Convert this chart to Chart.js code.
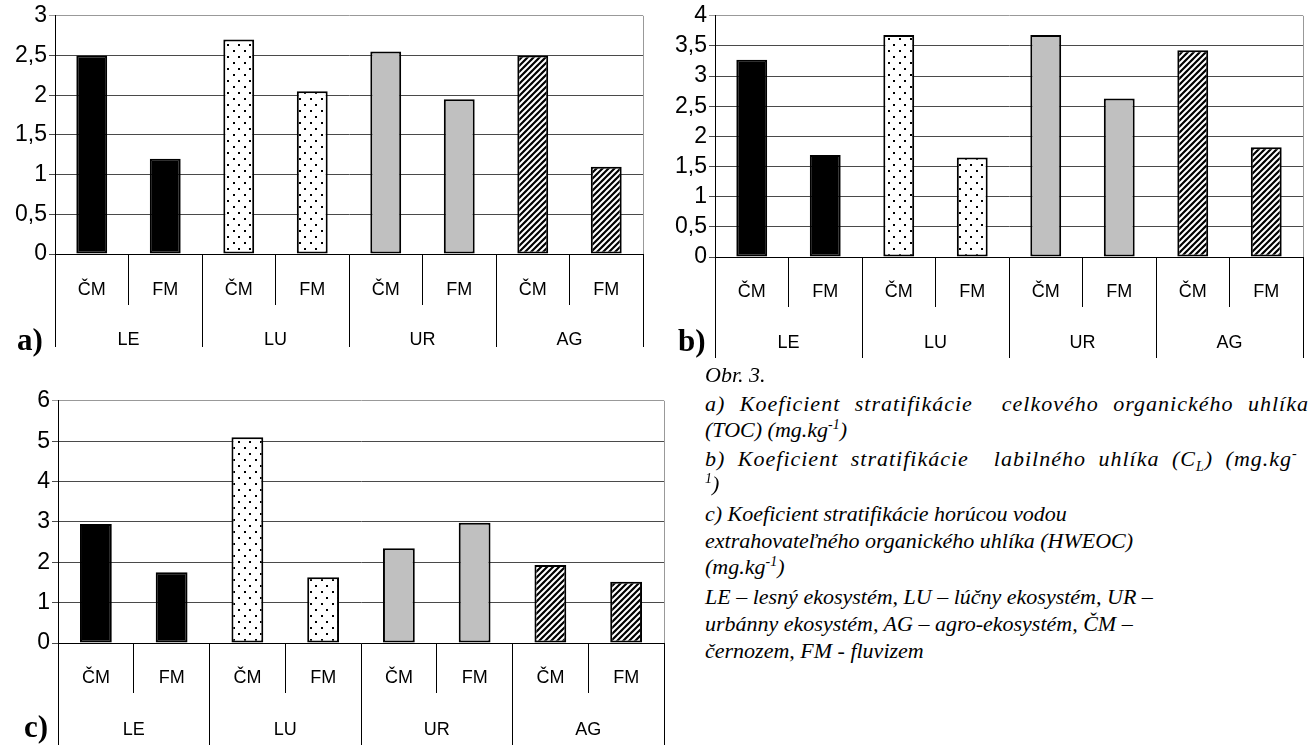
<!DOCTYPE html>
<html>
<head>
<meta charset="utf-8">
<script src="https://cdn.jsdelivr.net/npm/chart.js@4.4.1/dist/chart.umd.min.js"></script>
<style>
  html, body { margin: 0; padding: 0; background: #fff; }
  body { width: 1313px; height: 747px; position: relative; overflow: hidden; }
  canvas { position: absolute; }
  .tag { position: absolute; font-family: "Liberation Serif", "Times New Roman", serif;
         font-weight: bold; font-size: 31px; line-height: 30px; color: #000; }
  .cap { position: absolute; left: 705px; white-space: nowrap; height: 28px; line-height: 28px;
         font-family: "Liberation Serif", "Times New Roman", serif; font-style: italic;
         font-size: 22px; color: #000; }
  .cap sup, .cap sub { font-size: 14px; line-height: 0; }
  .just-a { letter-spacing: 1px; word-spacing: 8px; }
  .just-b { letter-spacing: 1px; word-spacing: 6px; }
</style>
</head>
<body>
<canvas id="chartA" width="660" height="350" style="left:0;top:0"></canvas>
<canvas id="chartB" width="658" height="362" style="left:655px;top:0"></canvas>
<canvas id="chartC" width="680" height="362" style="left:0;top:385px"></canvas>

<div class="tag" style="left:17px;top:325px">a)</div>
<div class="tag" style="left:678px;top:326px">b)</div>
<div class="tag" style="left:24px;top:712px">c)</div>

<div class="cap" style="top:361px">Obr. 3.</div>
<div class="cap just-a" style="top:390px">a) Koeficient stratifikácie&nbsp; celkového organického uhlíka</div>
<div class="cap" style="top:416px">(TOC) (mg.kg<sup>-1</sup>)</div>
<div class="cap just-b" style="top:445px">b) Koeficient stratifikácie&nbsp; labilného uhlíka (C<sub>L</sub>) (mg.kg<sup>-</sup></div>
<div class="cap" style="top:470px"><sup>1</sup>)</div>
<div class="cap" style="top:500px">c) Koeficient stratifikácie horúcou vodou</div>
<div class="cap" style="top:527px">extrahovateľného organického uhlíka (HWEOC)</div>
<div class="cap" style="top:553px">(mg.kg<sup>-1</sup>)</div>
<div class="cap" style="top:583px">LE – lesný ekosystém, LU – lúčny ekosystém, UR –</div>
<div class="cap" style="top:610px">urbánny ekosystém, AG – agro-ekosystém, ČM –</div>
<div class="cap" style="top:637px">černozem, FM - fluvizem</div>

<script>
// Soil types within each ecosystem, and the ecosystems themselves
const soilLabels = ['ČM', 'FM', 'ČM', 'FM', 'ČM', 'FM', 'ČM', 'FM'];
const ecoLabels = ['LE', 'LU', 'UR', 'AG'];

// Stratification coefficients: a) TOC, b) labile carbon C_L, c) HWEOC
const valuesTOC = [2.5, 1.2, 2.7, 2.05, 2.55, 1.95, 2.5, 1.1];
const valuesCL = [3.27, 1.69, 3.68, 1.65, 3.68, 2.63, 3.43, 1.82];
const valuesHWEOC = [2.95, 1.75, 5.1, 1.63, 2.35, 2.98, 1.93, 1.52];

// Value axis ranges
const yMaxTOC = 3, yStepTOC = 0.5;
const yMaxCL = 4, yStepCL = 0.5;
const yMaxHWEOC = 6, yStepHWEOC = 1;

// Fill patterns: one per ecosystem
function dotPattern() {
  const c = document.createElement('canvas');
  c.width = 11; c.height = 12;
  const g = c.getContext('2d');
  g.fillStyle = '#fff'; g.fillRect(0, 0, 11, 12);
  g.fillStyle = '#000';
  g.fillRect(2, 2, 2, 2);
  g.fillRect(7, 8, 2, 2);
  return g.createPattern(c, 'repeat');
}
function hatchPattern() {
  const s = 6;
  const c = document.createElement('canvas');
  c.width = s; c.height = s;
  const g = c.getContext('2d');
  g.fillStyle = '#000'; g.fillRect(0, 0, s, s);
  g.strokeStyle = '#fff'; g.lineWidth = 2;
  g.beginPath();
  g.moveTo(-1, s + 1); g.lineTo(s + 1, -1);
  g.moveTo(-1, 1); g.lineTo(1, -1);
  g.moveTo(s - 1, s + 1); g.lineTo(s + 1, s - 1);
  g.stroke();
  return g.createPattern(c, 'repeat');
}
const ecoFills = ['#000000', dotPattern(), '#c0c0c0', hatchPattern()];
const barFills = soilLabels.map((_, i) => ecoFills[Math.floor(i / 2)]);

// Right edge of the plot frame
const frameRight = {
  id: 'frameRight',
  beforeDatasetsDraw(chart) {
    const a = chart.chartArea, g = chart.ctx;
    g.save();
    g.strokeStyle = '#999'; g.lineWidth = 1;
    g.beginPath();
    g.moveTo(Math.round(a.right) + 0.5, a.top);
    g.lineTo(Math.round(a.right) + 0.5, a.bottom);
    g.stroke();
    g.restore();
  }
};

const sans = '"Liberation Sans", Arial, sans-serif';

function makeChart(id, values, yMax, yStep, geo) {
  return new Chart(document.getElementById(id), {
    type: 'bar',
    data: {
      labels: soilLabels,
      datasets: [{
        data: values,
        backgroundColor: barFills,
        borderColor: '#000',
        borderWidth: 2,
        borderSkipped: false,
        categoryPercentage: 1,
        barPercentage: 0.42
      }]
    },
    plugins: [frameRight],
    options: {
      responsive: false,
      animation: false,
      events: [],
      layout: { padding: geo.padding },
      plugins: { legend: { display: false }, tooltip: { enabled: false } },
      scales: {
        x: {
          position: 'bottom',
          weight: 0,
          offset: true,
          grid: { offset: true, drawOnChartArea: false, drawTicks: true,
                  tickLength: geo.x1, color: '#000', lineWidth: 1 },
          border: { display: true, color: '#000', width: 1 },
          ticks: { color: '#000', font: { family: sans, size: 18 },
                   padding: geo.x1Pad, maxRotation: 0, autoSkip: false },
          afterFit(s) { s.height = geo.x1; }
        },
        x2: {
          type: 'category',
          position: 'bottom',
          weight: 1,
          labels: ecoLabels,
          offset: true,
          grid: { offset: true, drawOnChartArea: false, drawTicks: true,
                  tickLength: geo.x2, color: '#000', lineWidth: 1 },
          border: { display: false },
          ticks: { color: '#000', font: { family: sans, size: 18 },
                   padding: geo.x2Pad, maxRotation: 0, autoSkip: false },
          afterFit(s) { s.height = geo.x2; }
        },
        y: {
          min: 0,
          max: yMax,
          ticks: { stepSize: yStep, color: '#000', padding: 2, autoSkip: false,
                   font: { family: sans, size: 23 },
                   callback: v => String(v).replace('.', ',') },
          grid: { drawTicks: true, tickLength: 6,
                  color: ctx => (ctx.tick && ctx.tick.value === yMax) ? '#999' : '#4a4a4a',
                  lineWidth: 1 },
          border: { display: true, color: '#000', width: 1 },
          afterFit(s) { s.width = geo.yw; }
        }
      }
    }
  });
}

makeChart('chartA', valuesTOC, yMaxTOC, yStepTOC, {
  padding: { top: 14, right: 17, bottom: 3, left: 0 },
  yw: 55, x1: 51, x2: 42, x1Pad: -25.8, x2Pad: -17.8
});
makeChart('chartB', valuesCL, yMaxCL, yStepCL, {
  padding: { top: 15, right: 10, bottom: 4, left: 0 },
  yw: 60, x1: 50, x2: 51, x1Pad: -25.8, x2Pad: -25.8
});
makeChart('chartC', valuesHWEOC, yMaxHWEOC, yStepHWEOC, {
  padding: { top: 14, right: 16, bottom: 2, left: 0 },
  yw: 58, x1: 50, x2: 52, x1Pad: -25.8, x2Pad: -25.8
});
</script>
</body>
</html>
